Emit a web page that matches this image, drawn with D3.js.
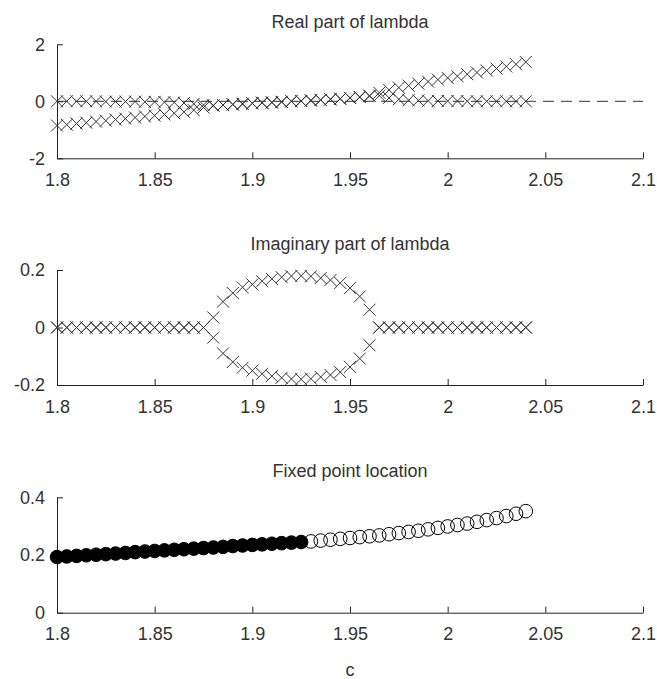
<!DOCTYPE html>
<html>
<head>
<meta charset="utf-8">
<script src="https://cdn.jsdelivr.net/npm/d3@7"></script>
<style>
  body { margin: 0; background: #fff; }
  text { font-family: "Liberation Sans", Arial, sans-serif; }
</style>
</head>
<body>
<script>
// parameter c (x axis of all three panels)
var cValues = [1.800, 1.805, 1.810, 1.815, 1.820, 1.825, 1.830, 1.835, 1.840, 1.845,
               1.850, 1.855, 1.860, 1.865, 1.870, 1.875, 1.880, 1.885, 1.890, 1.895,
               1.900, 1.905, 1.910, 1.915, 1.920, 1.925, 1.930, 1.935, 1.940, 1.945,
               1.950, 1.955, 1.960, 1.965, 1.970, 1.975, 1.980, 1.985, 1.990, 1.995,
               2.000, 2.005, 2.010, 2.015, 2.020, 2.025, 2.030, 2.035, 2.040];

// real parts of the two eigenvalues
var realLambda1 = [0, 0, 0, 0, 0, -0.01, -0.01, -0.01, -0.01, -0.02,
                   -0.02, -0.03, -0.04, -0.06, -0.09, -0.13, -0.15, -0.13, -0.11, -0.09,
                   -0.07, -0.05, -0.04, -0.02, 0.00, 0.01, 0.03, 0.05, 0.07, 0.09,
                   0.12, 0.15, 0.19, 0.30, 0.40, 0.48, 0.55, 0.62, 0.69, 0.76,
                   0.82, 0.88, 0.95, 1.01, 1.08, 1.15, 1.22, 1.30, 1.38];
var realLambda2 = [-0.85, -0.82, -0.78, -0.75, -0.71, -0.68, -0.64, -0.61, -0.57, -0.53,
                   -0.50, -0.46, -0.42, -0.37, -0.31, -0.22, -0.15, -0.13, -0.11, -0.09,
                   -0.07, -0.05, -0.04, -0.02, 0.00, 0.01, 0.03, 0.05, 0.07, 0.09,
                   0.12, 0.15, 0.19, 0.20, 0.12, 0.07, 0.04, 0.03, 0.02, 0.01,
                   0.01, 0.01, 0, 0, 0, 0, 0, 0, 0];

// imaginary parts of the two eigenvalues
var imagLambda1 = [0, 0, 0, 0, 0, 0, 0, 0, 0, 0,
                   0, 0, 0, 0, 0, 0, 0.035, 0.09, 0.12, 0.14,
                   0.15, 0.161, 0.169, 0.175, 0.179, 0.18, 0.178, 0.172, 0.165, 0.155,
                   0.137, 0.108, 0.062, 0, 0, 0, 0, 0, 0, 0,
                   0, 0, 0, 0, 0, 0, 0, 0, 0];
var imagLambda2 = [0, 0, 0, 0, 0, 0, 0, 0, 0, 0,
                   0, 0, 0, 0, 0, 0, -0.035, -0.09, -0.12, -0.14,
                   -0.15, -0.161, -0.169, -0.175, -0.179, -0.18, -0.178, -0.172, -0.165, -0.155,
                   -0.137, -0.108, -0.062, 0, 0, 0, 0, 0, 0, 0,
                   0, 0, 0, 0, 0, 0, 0, 0, 0];

// fixed point location, filled while stable
var fixedPoint = [0.193, 0.195, 0.197, 0.199, 0.201, 0.203, 0.205, 0.207, 0.210, 0.212,
                  0.214, 0.216, 0.218, 0.220, 0.222, 0.224, 0.226, 0.228, 0.231, 0.233,
                  0.235, 0.237, 0.239, 0.241, 0.243, 0.245, 0.247, 0.250, 0.253, 0.256,
                  0.259, 0.262, 0.265, 0.268, 0.272, 0.276, 0.280, 0.284, 0.289, 0.294,
                  0.299, 0.304, 0.309, 0.315, 0.321, 0.328, 0.335, 0.343, 0.352];
var stableUpTo = 1.925;

// axis ticks
var xTicks = [1.8, 1.85, 1.9, 1.95, 2, 2.05, 2.1];
var xTickLabels = ["1.8", "1.85", "1.9", "1.95", "2", "2.05", "2.1"];
var panelTitles = ["Real part of lambda", "Imaginary part of lambda", "Fixed point location"];
var yTicks1 = [-2, 0, 2], yTicks2 = [-0.2, 0, 0.2], yTicks3 = [0, 0.2, 0.4];
var yTickLabels1 = ["-2", "0", "2"], yTickLabels2 = ["-0.2", "0", "0.2"], yTickLabels3 = ["0", "0.2", "0.4"];

var W = 657, H = 679;
var left = 57, right = 643;
var fontSize = "18px";

var svg = d3.select("body")
    .append("svg")
    .attr("width", W)
    .attr("height", H);

svg.append("rect").attr("width", W).attr("height", H).attr("fill", "#fff");

var x = d3.scaleLinear().domain([1.8, 2.1]).range([left, right]);

var crossPath = "M-6,-6L6,6M-6,6L6,-6";

// draws the axes of one panel, returns its y scale
function panel(top, bottom, yDomain, yTicks, yLabels, title, titleY) {
    var y = d3.scaleLinear().domain(yDomain).range([bottom, top]);

    var gx = svg.append("g")
        .attr("transform", "translate(0," + bottom + ")")
        .call(d3.axisBottom(x)
            .tickValues(xTicks)
            .tickFormat(function(d, i) { return xTickLabels[i]; })
            .tickSizeInner(-6)
            .tickSizeOuter(0)
            .tickPadding(15));

    var gy = svg.append("g")
        .attr("transform", "translate(" + left + ",0)")
        .call(d3.axisLeft(y)
            .tickValues(yTicks)
            .tickFormat(function(d, i) { return yLabels[i]; })
            .tickSizeInner(-6)
            .tickSizeOuter(0)
            .tickPadding(12));

    [gx, gy].forEach(function(g) {
        g.selectAll("text").style("font-size", fontSize).attr("fill", "#333")
            .style("font-family", "'Liberation Sans', Arial, sans-serif");
        g.selectAll("path, line").attr("stroke", "#222");
    });

    svg.append("text")
        .attr("x", (left + right) / 2)
        .attr("y", titleY)
        .attr("text-anchor", "middle")
        .style("font-size", fontSize)
        .attr("fill", "#333")
        .text(title);

    return y;
}

// ---------- panel 1: real part ----------
var y1 = panel(44.3, 158.3, [-2, 2], yTicks1, yTickLabels1, panelTitles[0], 28);

svg.append("line")
    .attr("x1", x(1.8)).attr("x2", x(2.1))
    .attr("y1", y1(0)).attr("y2", y1(0))
    .attr("stroke", "#333")
    .attr("stroke-width", 1)
    .style("stroke-dasharray", "11,7");

[realLambda1, realLambda2].forEach(function(series) {
    svg.append("g")
        .selectAll("path")
        .data(cValues)
        .enter()
        .append("path")
        .attr("d", crossPath)
        .attr("transform", function(d, i) { return "translate(" + x(d) + "," + y1(series[i]) + ")"; })
        .attr("fill", "none")
        .attr("stroke", "#333")
        .attr("stroke-width", 1);
});

// ---------- panel 2: imaginary part ----------
var y2 = panel(270, 385, [-0.2, 0.2], yTicks2, yTickLabels2, panelTitles[1], 250);

[imagLambda1, imagLambda2].forEach(function(series) {
    svg.append("g")
        .selectAll("path")
        .data(cValues)
        .enter()
        .append("path")
        .attr("d", crossPath)
        .attr("transform", function(d, i) { return "translate(" + x(d) + "," + y2(series[i]) + ")"; })
        .attr("fill", "none")
        .attr("stroke", "#333")
        .attr("stroke-width", 1);
});

// ---------- panel 3: fixed point ----------
var y3 = panel(497.3, 612.7, [0, 0.4], yTicks3, yTickLabels3, panelTitles[2], 477);

svg.append("g")
    .selectAll("circle")
    .data(cValues)
    .enter()
    .append("circle")
    .attr("cx", function(d) { return x(d); })
    .attr("cy", function(d, i) { return y3(fixedPoint[i]); })
    .attr("r", 6.8)
    .attr("fill", function(d) { return d <= stableUpTo + 1e-9 ? "#000" : "none"; })
    .attr("stroke", "#000")
    .attr("stroke-width", 1);

// x label
svg.append("text")
    .attr("x", (left + right) / 2)
    .attr("y", 676)
    .attr("text-anchor", "middle")
    .style("font-size", fontSize)
    .attr("fill", "#333")
    .text("c");
</script>
</body>
</html>
